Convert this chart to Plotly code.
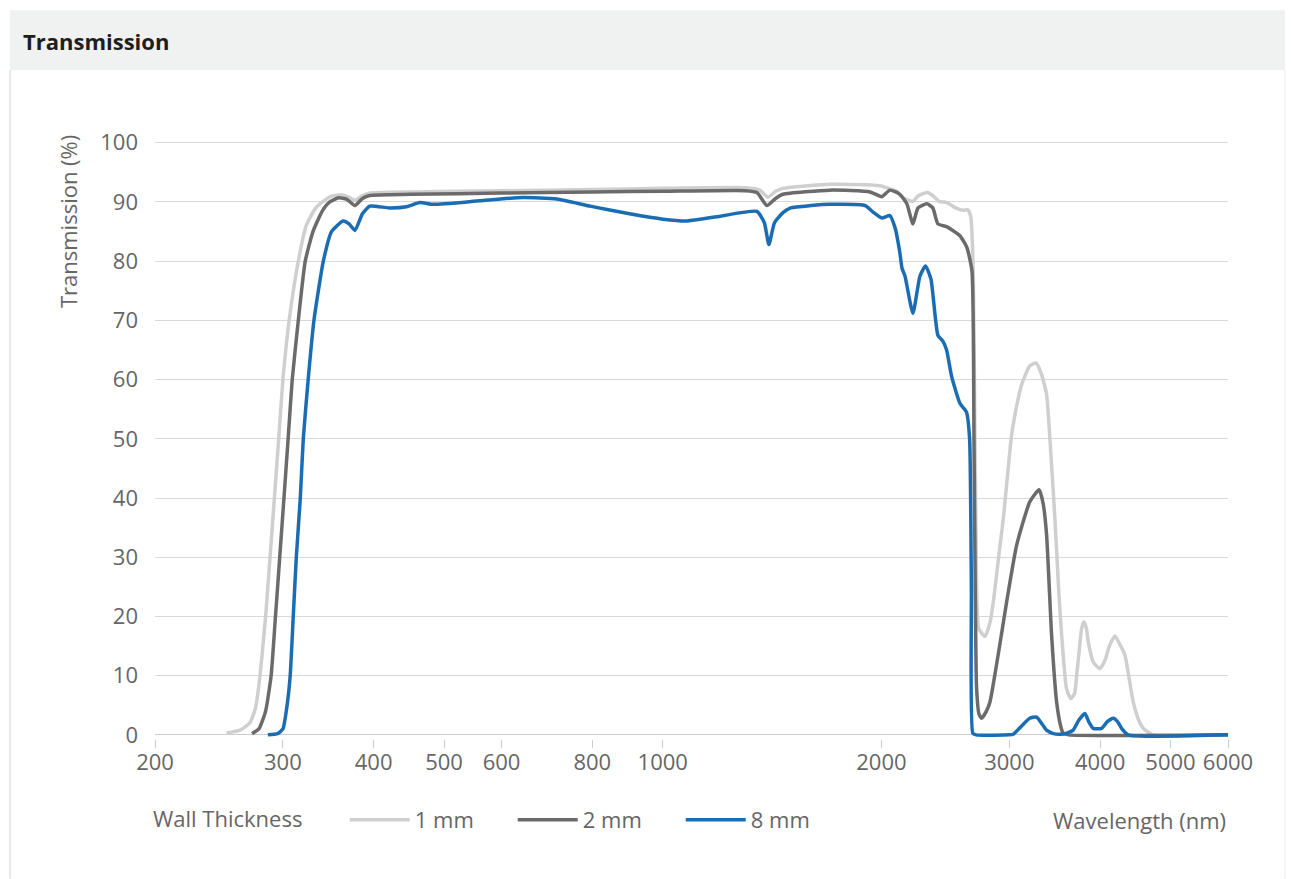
import plotly.graph_objects as go

# ---------------- data ----------------
wl_1mm = [251, 262, 270, 275, 279, 284, 288, 292, 296, 300, 306, 315, 323, 332, 340, 350, 362, 370, 377,
          385, 395, 450, 600, 800, 1000, 1300, 1360, 1396, 1430, 1464, 1600, 1700, 1900, 2000, 2054, 2100,
          2130, 2168, 2210, 2246, 2310, 2354, 2400, 2462, 2530, 2590, 2630, 2655, 2676, 2690, 2705, 2722,
          2777, 2822, 2852, 2900, 2944, 3022, 3070, 3120, 3200, 3264, 3320, 3376, 3420, 3466, 3510, 3541,
          3596, 3646, 3690, 3714, 3750, 3773, 3800, 3830, 3853, 3914, 3998, 4060, 4120, 4192, 4250, 4327,
          4442, 4520, 4586, 4728, 6000]
t_1mm = [0.3, 0.8, 2, 4.5, 10, 20, 30, 40, 50, 60, 70, 80, 86, 88.8, 90, 91, 91.2, 90.8, 90.3,
         91.0, 91.5, 91.7, 91.9, 92.1, 92.3, 92.4, 92.0, 90.8, 91.8, 92.3, 92.8, 93.0, 92.9, 92.7, 92.2, 91.8,
         91.0, 90.4, 90.1, 91.0, 91.6, 91.1, 90.1, 89.9, 89.0, 88.6, 88.7, 87.5, 78, 50, 25, 18,
         16.6, 19, 22.5, 30, 36.6, 50.7, 55.5, 59.2, 62.3, 62.8, 61, 57.5, 48, 36.6, 24, 16.9,
         7.8, 6.1, 7, 10.1, 15, 18, 19.1, 18, 15.7, 12.3, 11.2, 12.5, 15, 16.7, 15.5, 13.5,
         5.6, 2.5, 1.1, 0, 0]

wl_2mm = [272, 278, 284, 289, 293, 297, 301, 305, 309, 315, 322, 330, 340, 348, 358, 367, 377, 386, 395,
          450, 600, 800, 1000, 1300, 1348, 1391, 1430, 1464, 1699, 1929, 2003, 2054, 2120, 2168, 2210,
          2246, 2310, 2354, 2392, 2462, 2565, 2623, 2665, 2682, 2695, 2704, 2725, 2748, 2790, 2822, 2900,
          2975, 3070, 3202, 3298, 3340, 3376, 3430, 3485, 3530, 3558, 3620, 6000]
t_2mm = [0.2, 1, 4, 10, 20, 30, 40, 50, 60, 70, 80, 85, 88.5, 90, 90.7, 90.5, 89.4, 90.6, 91.1,
         91.3, 91.5, 91.7, 91.8, 91.9, 91.6, 89.4, 90.6, 91.3, 92.0, 91.7, 90.9, 92.0, 91.3, 89.7, 86.3,
         89.0, 89.7, 89.0, 86.3, 85.8, 84.3, 82.3, 78.3, 50, 20, 8, 3.5, 2.8, 4, 5.6, 14,
         22.5, 32, 39.4, 41.4, 39, 33.8, 16.9, 5.6, 1.5, 0.3, 0, 0]

wl_8mm = [286, 295, 300, 304, 307, 310, 313, 317, 320, 325, 331, 341, 350, 363, 370, 377, 386, 395,
          420, 444, 463, 483, 560, 642, 715, 794, 900, 1000, 1080, 1200, 1348, 1380, 1400, 1425, 1464,
          1500, 1600, 1699, 1900, 1948, 2003, 2054, 2090, 2120, 2135, 2155, 2210, 2260, 2300, 2340, 2392,
          2430, 2459, 2499, 2565, 2619, 2645, 2660, 2672, 2700, 3000, 3037, 3120, 3200, 3270, 3330, 3376,
          3450, 3522, 3600, 3673, 3740, 3812, 3860, 3914, 4020, 4090, 4170, 4230, 4282, 4372, 6000]
t_8mm = [0, 0.2, 1, 5, 10, 20, 30, 40, 50, 60, 70, 80, 85, 86.8, 86.3, 85.2, 88, 89.3,
         89.0, 89.2, 89.9, 89.6, 90.2, 90.75, 90.5, 89.3, 88, 87.1, 86.8, 87.6, 88.4, 86.5, 82.8, 86.5, 88.2,
         89.0, 89.4, 89.6, 89.4, 88.3, 87.3, 87.7, 85.5, 81.5, 78.8, 77.5, 71.2, 77.5, 79.2, 77, 67.5,
         66.5, 65, 60.5, 56, 54.5, 50, 25, 0.3, 0, 0, 0.1, 1.5, 2.8, 3.0, 1.8, 0.8,
         0.2, 0.1, 0.3, 0.8, 2.5, 3.6, 2.2, 1.1, 1.1, 2.2, 2.8, 2.2, 1.1, 0, 0]

series_names = ["1 mm", "2 mm", "8 mm"]
series_colors = ["#cfcfcf", "#6b6b6b", "#1b6db3"]

x_tick_vals = [200, 300, 400, 500, 600, 800, 1000, 2000, 3000, 4000, 5000, 6000]
x_tick_text = [str(v) for v in x_tick_vals]
y_tick_vals = list(range(0, 101, 10))

# ---------------- layout geometry ----------------
W, H = 1291, 879
L, R = 155, 1228
T, B = 140.9, 739.1
FONT = "Open Sans"
GREY_TXT = "#666666"
FS = 22


def px(x):
    return (x - L) / (R - L)


def py(y):
    return (B - y) / (B - T)


fig = go.Figure()
for name, xs, ys, col in zip(series_names, [wl_1mm, wl_2mm, wl_8mm], [t_1mm, t_2mm, t_8mm], series_colors):
    fig.add_trace(go.Scatter(x=xs, y=ys, mode="lines", name=name,
                             line=dict(color=col, width=3.5, shape="spline", smoothing=0.5),
                             hoverinfo="x+y+name"))

fig.update_layout(
    width=W, height=H,
    margin=dict(l=L, r=W - R, t=T, b=H - B, pad=0),
    paper_bgcolor="white", plot_bgcolor="white",
    font=dict(family=FONT, size=FS, color=GREY_TXT),
    xaxis=dict(type="log", range=[2.30103, 3.778151], tickvals=x_tick_vals, ticktext=x_tick_text,
               showgrid=False, zeroline=False, showline=False, ticks="outside", ticklen=8,
               tickcolor="#cccccc", tickwidth=1, tickfont=dict(size=FS, color=GREY_TXT),
               ticklabelstandoff=-4),
    yaxis=dict(range=[-0.7, 100.3], tickvals=y_tick_vals, showgrid=True, gridcolor="#d9d9d9",
               gridwidth=1, zeroline=True, zerolinecolor="#cccccc", zerolinewidth=1,
               showline=False, ticks="", tickfont=dict(size=FS, color=GREY_TXT),
               ticklabelstandoff=16),
    showlegend=True,
    legend=dict(orientation="h", x=px(151), xanchor="left", y=py(820), yanchor="middle",
                title=dict(text="Wall Thickness" + "&nbsp;" * 6, side="left",
                           font=dict(size=FS, color=GREY_TXT)),
                font=dict(size=FS, color=GREY_TXT), entrywidth=93, entrywidthmode="pixels",
                itemwidth=60, bgcolor="rgba(0,0,0,0)"),
    shapes=[
        dict(type="rect", xref="paper", yref="paper", x0=px(10), x1=px(1285), y0=py(70), y1=py(10),
             fillcolor="#f0f1f1", line=dict(width=0), layer="below"),
        dict(type="line", xref="paper", yref="paper", x0=px(10), x1=px(10), y0=py(879), y1=py(70),
             line=dict(color="#e2e2e2", width=1.5)),
        dict(type="line", xref="paper", yref="paper", x0=px(1285), x1=px(1285), y0=py(879), y1=py(70),
             line=dict(color="#ececec", width=1)),
    ],
    annotations=[
        dict(text="<b>Transmission</b>", xref="paper", yref="paper", x=px(21), y=py(41),
             xanchor="left", yanchor="middle", showarrow=False,
             font=dict(family=FONT, size=22, color="#1e1e1e")),
        dict(text="Transmission (%)", xref="paper", yref="paper", x=px(68), y=py(222),
             xanchor="center", yanchor="middle", showarrow=False, textangle=-90,
             font=dict(size=FS, color=GREY_TXT)),
        dict(text="Wavelength (nm)", xref="paper", yref="paper", x=px(1228), y=py(820),
             xanchor="right", yanchor="middle", showarrow=False,
             font=dict(size=FS, color=GREY_TXT)),
    ],
)

fig.write_html("out.html", config={"displayModeBar": False},
               post_script="document.body.style.margin='0';")
